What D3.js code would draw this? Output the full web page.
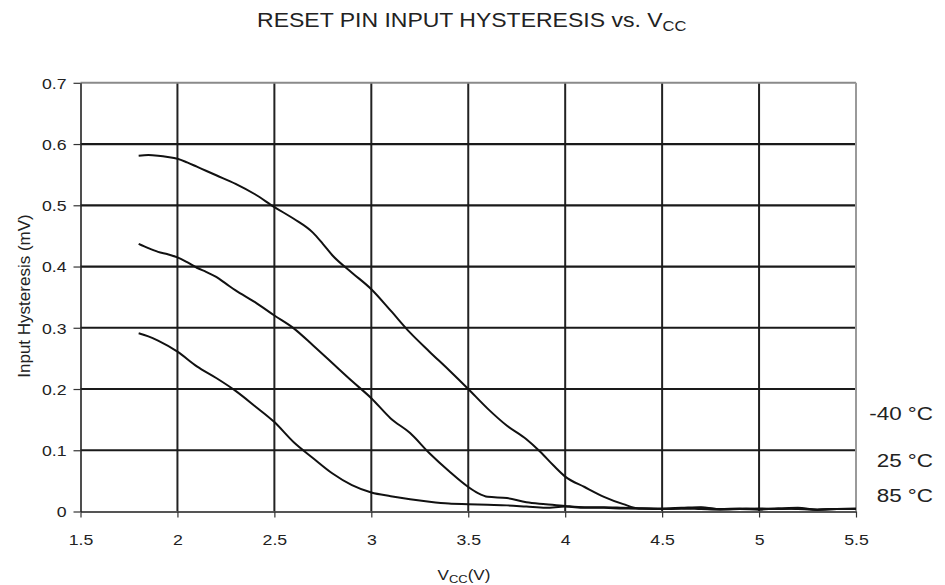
<!DOCTYPE html>
<html>
<head>
<meta charset="utf-8">
<script src="https://cdn.jsdelivr.net/npm/d3@7"></script>
<style>
  html, body { margin: 0; padding: 0; background: #fff; }
  svg { display: block; }
  text { font-family: "Liberation Sans", Arial, Helvetica, sans-serif; fill: #222; }
</style>
</head>
<body>
<svg id="chart" width="945" height="585"></svg>
<script>
// Supply voltage (V) and input hysteresis (mV) at three temperatures
const vccM40 = [1.80,1.85,1.90,1.95,2.00,2.05,2.10,2.15,2.20,2.30,2.40,2.50,2.60,2.70,2.75,2.80,2.90,3.00,3.10,3.20,3.30,3.40,3.50,3.60,3.70,3.80,3.87,3.94,4.00,4.10,4.20,4.30,4.38,4.50,4.60,4.70,4.80,4.90,5.00,5.10,5.20,5.30,5.40,5.50];
const hysM40 = [0.581,0.582,0.581,0.579,0.576,0.570,0.563,0.556,0.549,0.535,0.518,0.497,0.478,0.455,0.437,0.418,0.390,0.363,0.328,0.292,0.261,0.231,0.200,0.168,0.140,0.118,0.098,0.075,0.057,0.040,0.024,0.012,0.005,0.005,0.006,0.007,0.004,0.005,0.004,0.005,0.006,0.003,0.004,0.005];

const vcc25 = [1.80,1.85,1.90,1.95,2.00,2.05,2.10,2.15,2.20,2.25,2.30,2.40,2.50,2.60,2.70,2.80,2.90,3.00,3.10,3.20,3.30,3.40,3.50,3.55,3.60,3.70,3.80,3.90,4.00,4.10,4.20,4.30,4.40,4.50,4.60,4.70,4.80,4.90,5.00,5.10,5.20,5.30,5.40,5.50];
const hys25 = [0.437,0.430,0.424,0.420,0.415,0.407,0.398,0.391,0.383,0.372,0.361,0.342,0.320,0.299,0.271,0.242,0.213,0.185,0.152,0.128,0.095,0.066,0.040,0.030,0.024,0.022,0.015,0.012,0.009,0.007,0.007,0.006,0.005,0.004,0.005,0.006,0.004,0.004,0.003,0.005,0.004,0.003,0.004,0.004];

const vcc85 = [1.80,1.85,1.90,2.00,2.10,2.20,2.30,2.40,2.50,2.60,2.70,2.80,2.90,3.00,3.10,3.20,3.30,3.40,3.50,3.60,3.70,3.80,3.90,4.00,4.10,4.20,4.30,4.40,4.50,4.60,4.70,4.80,4.90,5.00,5.10,5.20,5.30,5.40,5.50];
const hys85 = [0.291,0.286,0.279,0.261,0.237,0.218,0.197,0.172,0.146,0.113,0.087,0.062,0.043,0.031,0.025,0.020,0.016,0.013,0.012,0.011,0.010,0.008,0.006,0.008,0.006,0.006,0.005,0.005,0.004,0.005,0.004,0.003,0.004,0.005,0.004,0.005,0.003,0.004,0.004];

const seriesLabels = ["-40 °C", "25 °C", "85 °C"];
const xTicks = [1.5, 2, 2.5, 3, 3.5, 4, 4.5, 5, 5.5];
const yTicks = [0, 0.1, 0.2, 0.3, 0.4, 0.5, 0.6, 0.7];

const series = [
  { v: vccM40, h: hysM40 },
  { v: vcc25,  h: hys25 },
  { v: vcc85,  h: hys85 }
];

const svg = d3.select("#chart");
const SX = 1.18; // horizontal text stretch

const x = d3.scaleLinear().domain([1.5, 5.5]).range([80.5, 856]);
const y = d3.scaleLinear().domain([0, 0.7]).range([511.5, 82.8]);

// grid
const grid = svg.append("g");
grid.selectAll("line.v").data(xTicks.slice(1, -1)).join("line")
  .attr("x1", d => x(d)).attr("x2", d => x(d))
  .attr("y1", y(0.7)).attr("y2", y(0))
  .attr("stroke", "#222").attr("stroke-width", 2);
grid.selectAll("line.h").data(yTicks.slice(1, -1)).join("line")
  .attr("x1", x(1.5)).attr("x2", x(5.5))
  .attr("y1", d => y(d)).attr("y2", d => y(d))
  .attr("stroke", "#1a1a1a").attr("stroke-width", 2.2);

// frame: top and right edges in grey
svg.append("line").attr("x1", x(1.5)).attr("x2", x(5.5)).attr("y1", y(0.7)).attr("y2", y(0.7))
  .attr("stroke", "#8a8a8a").attr("stroke-width", 2);
svg.append("line").attr("x1", x(5.5)).attr("x2", x(5.5)).attr("y1", y(0.7)).attr("y2", y(0))
  .attr("stroke", "#9a9a9a").attr("stroke-width", 2);

// axes
const xAxis = svg.append("g").attr("transform", `translate(0,${y(0)})`)
  .call(d3.axisBottom(x).tickValues(xTicks).tickFormat(d3.format("")).tickSize(6).tickSizeOuter(0));
const yAxis = svg.append("g").attr("transform", `translate(${x(1.5)},0)`)
  .call(d3.axisLeft(y).tickValues(yTicks).tickFormat(d3.format("")).tickSize(7).tickSizeOuter(0));

xAxis.select(".domain").attr("stroke", "#555").attr("stroke-width", 2);
yAxis.select(".domain").attr("stroke", "#222").attr("stroke-width", 1.6);
xAxis.selectAll(".tick line").attr("stroke", "#333").attr("stroke-width", 1.2);
yAxis.selectAll(".tick line").attr("stroke", "#333").attr("stroke-width", 1.2);
xAxis.selectAll(".tick text")
  .attr("font-size", 15).attr("fill", "#222")
  .attr("y", 23).attr("dy", "0.71em").attr("transform", `scale(${SX},1)`);
yAxis.selectAll(".tick text")
  .attr("font-size", 15).attr("fill", "#222")
  .attr("x", -14 / SX).attr("dy", "0.36em").attr("transform", `scale(${SX},1)`);
svg.selectAll(".tick text").style("font-family", '"Liberation Sans", Arial, sans-serif');

// curves
const line = d3.line().x(d => x(d[0])).y(d => y(d[1])).curve(d3.curveMonotoneX);
svg.append("g").selectAll("path").data(series).join("path")
  .attr("d", s => line(s.v.map((v, i) => [v, s.h[i]])))
  .attr("fill", "none").attr("stroke", "#111").attr("stroke-width", 2)
  .attr("stroke-linejoin", "round");

// helper for horizontally stretched text
function stretched(px, py, anchor, size) {
  return svg.append("text")
    .attr("transform", `translate(${px},${py}) scale(${SX},1)`)
    .attr("text-anchor", anchor).attr("font-size", size);
}

// series labels at the right
const labelY = [420, 467, 502];
seriesLabels.forEach((t, i) => stretched(933, labelY[i], "end", 19).text(t));

// title
const title = stretched(471.7, 26.5, "middle", 19.5);
title.append("tspan").text("RESET PIN INPUT HYSTERESIS vs. V");
title.append("tspan").attr("font-size", 14).attr("dy", 4).text("CC");

// x-axis title
const xt = stretched(464, 580, "middle", 14.5);
xt.append("tspan").text("V");
xt.append("tspan").attr("font-size", 11).attr("dy", 3).text("CC");
xt.append("tspan").attr("dy", -3).text("(V)");

// y-axis title
svg.append("text")
  .attr("transform", "translate(29.5,296) rotate(-90)")
  .attr("text-anchor", "middle").attr("font-size", 17)
  .text("Input Hysteresis (mV)");
</script>
</body>
</html>
